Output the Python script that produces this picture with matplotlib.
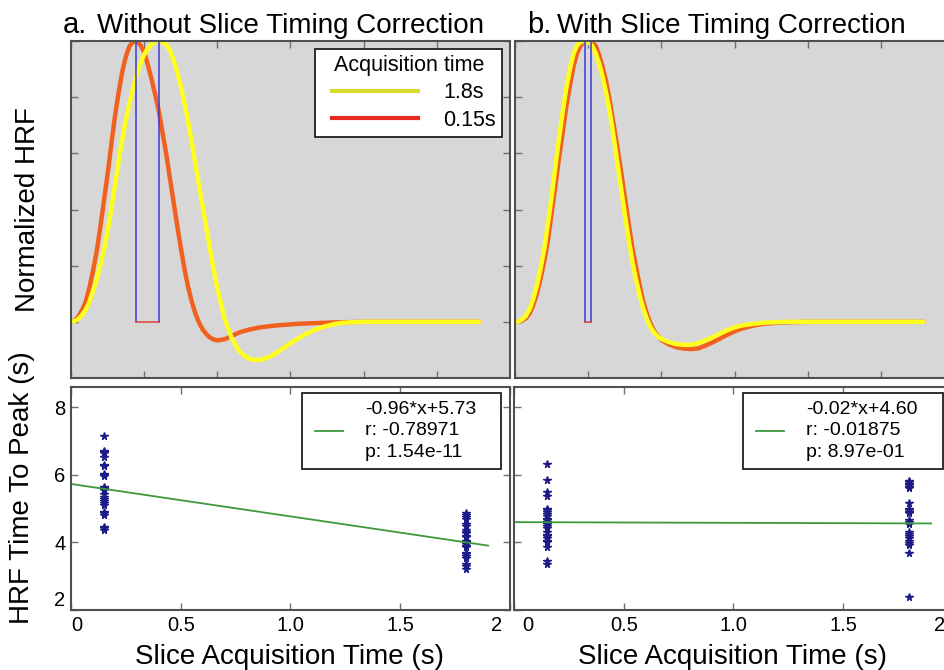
import numpy as np
import matplotlib.pyplot as plt
from matplotlib.lines import Line2D
from matplotlib.legend_handler import HandlerLine2D
from matplotlib.transforms import ScaledTranslation

plt.rcParams['font.family'] = ['Liberation Sans', 'DejaVu Sans']

# sample times of the normalized HRF curves (s)
t_hrf = [0, 0.25, 0.5, 0.75, 1.0, 1.25, 1.5, 1.75, 2.0, 2.25, 2.5, 2.75, 3.0, 3.25,
         3.5, 3.75, 4.0, 4.25, 4.5, 4.75, 5.0, 5.25, 5.5, 5.75, 6.0, 6.25, 6.5, 6.75,
         7.0, 7.25, 7.5, 7.75, 8.0, 8.25, 8.5, 8.75, 9.0, 9.25, 9.5, 9.75, 10.0,
         10.5, 11.0, 11.5, 12.0, 12.5, 13.0, 13.5, 14.0, 14.5, 15.0, 15.5, 16.0,
         16.5, 17.0, 17.5, 18.0, 18.5, 19.0, 20, 24, 28]

# without slice timing correction
hrf_a_fast = [0, 0.005, 0.018, 0.041, 0.07, 0.12, 0.18, 0.25, 0.335, 0.43, 0.525,
              0.63, 0.73, 0.815, 0.89, 0.945, 0.982, 0.998, 1.0, 0.985, 0.96, 0.915,
              0.865, 0.81, 0.75, 0.675, 0.60, 0.515, 0.43, 0.345, 0.265, 0.19, 0.125,
              0.072, 0.03, -0.003, -0.027, -0.044, -0.056, -0.063, -0.066,
              -0.062, -0.05, -0.038, -0.03, -0.024, -0.019, -0.016, -0.013, -0.011,
              -0.009, -0.007, -0.006, -0.005, -0.004, -0.003, -0.002, -0.002, -0.001,
              0, 0, 0]
hrf_a_slow = [0, 0.003, 0.01, 0.024, 0.043, 0.07, 0.11, 0.15, 0.2, 0.255, 0.32, 0.40,
              0.485, 0.57, 0.65, 0.72, 0.78, 0.833, 0.882, 0.92, 0.952, 0.973, 0.988,
              0.997, 1.0, 0.998, 0.987, 0.968, 0.935, 0.89, 0.84, 0.78, 0.715, 0.64,
              0.563, 0.485, 0.41, 0.335, 0.26, 0.185, 0.12,
              0.01, -0.06, -0.105, -0.127, -0.136, -0.135, -0.126, -0.112, -0.094,
              -0.076, -0.06, -0.045, -0.032, -0.022, -0.014, -0.008, -0.004, -0.002,
              0, 0, 0]

# with slice timing correction
hrf_b_fast = [0, 0.001, 0.005, 0.013, 0.03, 0.06, 0.1, 0.155, 0.215, 0.29, 0.385,
              0.48, 0.58, 0.67, 0.765, 0.84, 0.91, 0.958, 0.985, 0.998, 1.0, 0.995,
              0.984, 0.95, 0.905, 0.85, 0.78, 0.70, 0.62, 0.535, 0.445, 0.357, 0.27,
              0.2, 0.135, 0.075, 0.03, -0.005, -0.032, -0.05, -0.065,
              -0.08, -0.09, -0.095, -0.097, -0.095, -0.085, -0.073, -0.06, -0.046,
              -0.034, -0.024, -0.017, -0.011, -0.007, -0.005, -0.003, -0.002, -0.001,
              0, 0, 0]
hrf_b_slow = [0, 0.002, 0.009, 0.022, 0.045, 0.082, 0.13, 0.19, 0.26, 0.35, 0.445,
              0.55, 0.65, 0.745, 0.83, 0.9, 0.955, 0.985, 0.998, 1.0, 0.997, 0.985,
              0.958, 0.92, 0.87, 0.81, 0.74, 0.655, 0.565, 0.475, 0.385, 0.3, 0.22,
              0.155, 0.098, 0.05, 0.012, -0.018, -0.038, -0.052, -0.061,
              -0.072, -0.079, -0.082, -0.082, -0.076, -0.067, -0.055, -0.042, -0.03,
              -0.02, -0.013, -0.009, -0.006, -0.003, -0.002, -0.001, 0, 0,
              0, 0, 0]

# peak-time windows between the two acquisition times
peak_win_a = [4.45, 6.0]
peak_win_b = [4.8, 5.18]

# time to peak per voxel, for each slice acquisition time
acq_fast, acq_slow = 0.15, 1.8
ttp_a_fast = [7.16, 6.72, 6.68, 6.65, 6.52, 6.30, 6.27, 6.03, 6.00, 5.97, 5.65, 5.62,
              5.58, 5.55, 5.42, 5.35, 5.30, 5.24, 5.18, 5.12, 4.90, 4.86, 4.82, 4.47,
              4.42, 4.38]
ttp_a_slow = [4.87, 4.82, 4.75, 4.70, 4.55, 4.50, 4.38, 4.32, 4.28, 4.20, 4.15, 4.05,
              4.00, 3.95, 3.90, 3.85, 3.70, 3.65, 3.60, 3.55, 3.35, 3.30, 3.20]
ttp_b_fast = [6.32, 5.85, 5.48, 5.38, 5.00, 4.95, 4.90, 4.85, 4.78, 4.70, 4.65, 4.60,
              4.55, 4.50, 4.43, 4.30, 4.23, 4.18, 4.13, 4.05, 4.02, 3.85, 3.45, 3.35]
ttp_b_slow = [5.82, 5.78, 5.74, 5.70, 5.65, 5.62, 5.17, 5.00, 4.95, 4.90, 4.86, 4.65,
              4.60, 4.55, 4.30, 4.25, 4.18, 4.12, 4.05, 3.98, 3.92, 3.68, 2.38]

# linear fit (slope, intercept) and pearson r, p
fit_a, stats_a = (-0.96, 5.73), (-0.78971, 1.54e-11)
fit_b, stats_b = (-0.02, 4.60), (-0.01875, 8.97e-01)

c_fast, c_slow = '#f0611f', '#ffff1e'
c_box, c_base = '#3a3ad6', '#e0403a'
c_star, c_fit = '#1c1c88', '#3c9a3c'
c_spine = '#505050'

fig = plt.figure(figsize=(9.45, 6.7), dpi=100)
W, H = 945., 670.
def px_axes(x0, y0, x1, y1):
    return fig.add_axes([x0 / W, 1 - y1 / H, (x1 - x0) / W, (y1 - y0) / H])

ax_a = px_axes(71, 41, 510, 378)
ax_b = px_axes(515, 41, 954, 378)
ax_c = px_axes(71, 387, 510, 610)
ax_d = px_axes(514, 387, 953, 610)

def style(ax):
    for s in ax.spines.values():
        s.set_color(c_spine)
        s.set_linewidth(1.5)
    ax.tick_params(direction='in', top=True, right=True, length=5, width=1,
                   color='#707070', labelsize=14.5, pad=4)

def shift(label, dx):
    label.set_transform(label.get_transform() +
                        ScaledTranslation(dx / 100., 0, fig.dpi_scale_trans))

for ax, hf, hs, win in [(ax_a, hrf_a_fast, hrf_a_slow, peak_win_a),
                        (ax_b, hrf_b_fast, hrf_b_slow, peak_win_b)]:
    style(ax)
    ax.set_facecolor('#d7d7d7')
    ax.plot(t_hrf, hf, color=c_fast, lw=3.2, solid_capstyle='butt', solid_joinstyle='round')
    ax.plot(t_hrf, hs, color=c_slow, lw=3.2, solid_capstyle='butt', solid_joinstyle='round')
    ax.plot([win[0], win[0]], [0, 1], color=c_box, lw=1.1)
    ax.plot([win[1], win[1]], [0, 1], color=c_box, lw=1.1)
    ax.plot(win, [0, 0], color=c_base, lw=1.1)
    ax.set_xlim(0, 30)
    ax.set_ylim(-0.2, 1.0)
    ax.set_xticks([0, 5, 10, 15, 20, 25])
    ax.set_yticks([0, 0.2, 0.4, 0.6, 0.8, 1.0])
    ax.tick_params(labelbottom=False, labelleft=False)

handles = [Line2D([], [], color='#dada2c', lw=3), Line2D([], [], color='#e62a1e', lw=3)]
leg = ax_a.legend(handles, ['1.8s', '0.15s'], title='Acquisition time', loc='upper right',
                  fontsize=15.5, title_fontsize=15.5, handlelength=4.5, handletextpad=1.16,
                  labelspacing=0.3, borderaxespad=0.35, fancybox=False, framealpha=1,
                  borderpad=0.3, handler_map={Line2D: HandlerLine2D(xpad=0.5)})
leg.get_frame().set_edgecolor('#202020')
leg.get_frame().set_linewidth(1.3)

for ax, ttp_f, ttp_s, fit, st, box_x in [
        (ax_c, ttp_a_fast, ttp_a_slow, fit_a, stats_a, (0.526, 0.453)),
        (ax_d, ttp_b_fast, ttp_b_slow, fit_b, stats_b, (0.5216, 0.4556))]:
    style(ax)
    ax.plot([acq_fast] * len(ttp_f), ttp_f, '*', color=c_star, ms=5.5, mec=c_star)
    ax.plot([acq_slow] * len(ttp_s), ttp_s, '*', color=c_star, ms=5.5, mec=c_star)
    xs = np.array([0, 1.9])
    label = '%.2f*x+%.2f\nr: %.5f\np: %.2e' % (fit[0], fit[1], st[0], st[1])
    ax.plot(xs, fit[0] * xs + fit[1], color=c_fit, lw=1.3, label=label)
    ax.set_xlim(0, 2)
    ax.set_ylim(2, 8.6)
    ax.set_xticks([0, 0.5, 1.0, 1.5, 2])
    ax.set_xticklabels(['0', '0.5', '1.0', '1.5', '2'])
    ax.set_yticks([2, 4, 6, 8])
    lg = ax.legend(loc='upper left', bbox_to_anchor=(box_x[0], 0, box_x[1], 0.973),
                   mode='expand', fontsize=14, handlelength=1.7, handletextpad=1.13,
                   borderaxespad=0, fancybox=False, framealpha=1, borderpad=0.4,
                   handler_map={Line2D: HandlerLine2D(xpad=0.27)})
    for t in lg.get_texts():
        t.set_linespacing(1.35)
    lg.get_frame().set_edgecolor('#202020')
    lg.get_frame().set_linewidth(1.3)

ax_d.tick_params(labelleft=False)
ax_c.get_yticklabels()[0].set_va('bottom')
ax_c.get_xticklabels()[0].set_ha('left')
ax_d.get_xticklabels()[0].set_ha('left')
shift(ax_d.get_xticklabels()[0], 8)
shift(ax_c.get_xticklabels()[-1], -13)
shift(ax_d.get_xticklabels()[-1], -13)

# panel titles
fig.text(63 / W, 1 - 33 / H, 'a.', fontsize=21, va='baseline')
fig.text(97 / W, 1 - 33 / H, 'Without Slice Timing Correction', fontsize=20, va='baseline')
fig.text(527 / W, 1 - 33 / H, 'b.', fontsize=21, va='baseline')
fig.text(557 / W, 1 - 33 / H, 'With Slice Timing Correction', fontsize=20, va='baseline')

fig.text(28 / W, 1 - 210 / H, 'Normalized HRF', fontsize=20, rotation=90,
         ha='center', va='center')
fig.text(22 / W, 1 - 488 / H, 'HRF Time To Peak (s)', fontsize=20, rotation=90,
         ha='center', va='center')
fig.text(290 / W, 1 - 657 / H, 'Slice Acquisition Time (s)', fontsize=20,
         ha='center', va='center')
fig.text(733 / W, 1 - 657 / H, 'Slice Acquisition Time (s)', fontsize=20,
         ha='center', va='center')

plt.savefig('out.png', dpi=100)
